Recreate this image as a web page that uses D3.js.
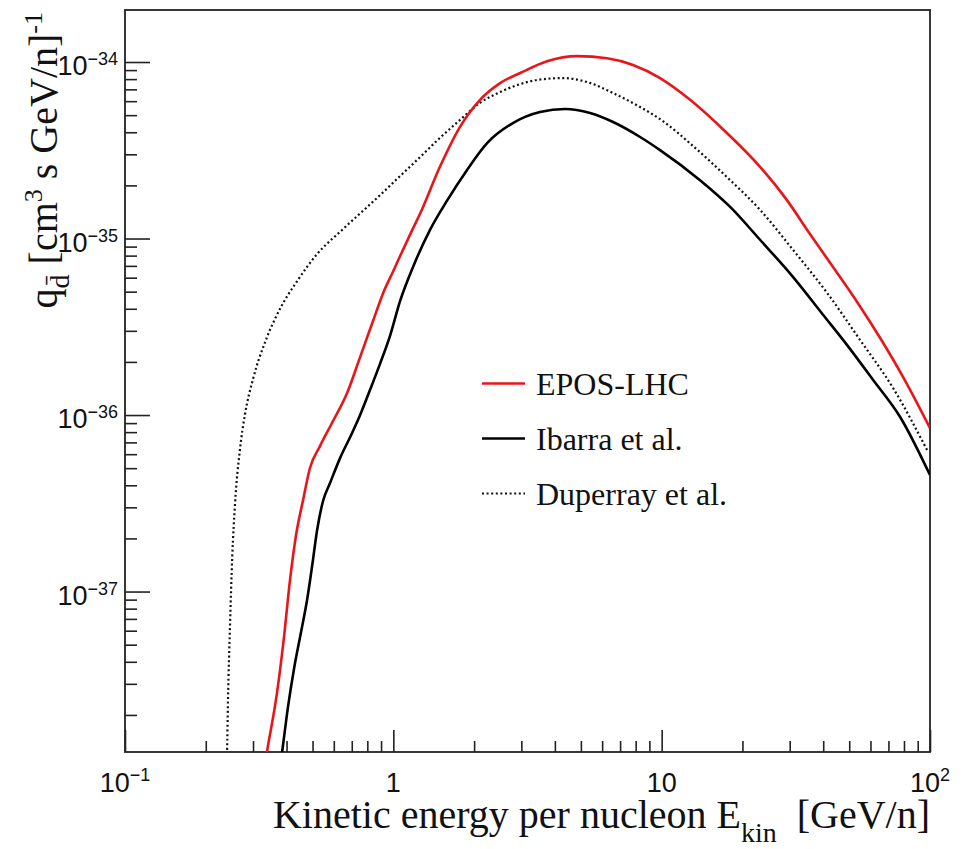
<!DOCTYPE html>
<html>
<head>
<meta charset="utf-8">
<script src="https://cdn.jsdelivr.net/npm/d3@7"></script>
<style>
body { margin: 0; background: #fff; }
</style>
</head>
<body>
<svg width="964" height="849"></svg>
<script>
// kinetic energy per nucleon [GeV/n] and source term q [cm^3 s GeV/n]^-1
var eposE = [0.327, 0.338, 0.369, 0.391, 0.412, 0.434, 0.461, 0.489, 0.533, 0.596, 0.672, 0.752, 0.840, 0.923, 1.00, 1.06, 1.18, 1.26, 1.49, 1.77, 2.10, 2.50, 2.97, 3.74, 4.84, 6.26, 7.82, 9.86, 12.8, 17.5, 23.3, 29.3, 35.7, 43.5, 53.5, 65.2, 79.4, 100];
var eposQ = [9.0e-39, 1.23e-38, 2.70e-38, 5.46e-38, 1.16e-37, 2.09e-37, 3.30e-37, 5.01e-37, 6.67e-37, 9.25e-37, 1.33e-36, 2.13e-36, 3.41e-36, 5.04e-36, 6.55e-36, 7.96e-36, 1.13e-35, 1.39e-35, 2.54e-35, 4.28e-35, 6.09e-35, 7.60e-35, 8.66e-35, 1.01e-34, 1.08e-34, 1.05e-34, 9.62e-35, 8.11e-35, 6.09e-35, 3.96e-35, 2.54e-35, 1.65e-35, 1.06e-35, 6.90e-36, 4.37e-36, 2.73e-36, 1.64e-36, 8.44e-37];

var ibarraE = [0.378, 0.385, 0.405, 0.427, 0.453, 0.477, 0.498, 0.520, 0.547, 0.581, 0.633, 0.702, 0.752, 0.819, 0.892, 0.972, 1.06, 1.18, 1.37, 1.59, 1.88, 2.24, 2.79, 3.52, 4.37, 5.41, 6.59, 8.31, 9.86, 13.9, 18.0, 23.3, 30.9, 40.0, 49.1, 61.4, 77.4, 100];
var ibarraQ = [1.0e-38, 1.23e-38, 2.22e-38, 3.69e-38, 5.90e-38, 8.95e-38, 1.39e-37, 2.23e-37, 3.26e-37, 4.12e-37, 5.70e-37, 7.91e-37, 1.00e-36, 1.39e-36, 1.95e-36, 2.81e-36, 4.43e-36, 6.81e-36, 1.12e-35, 1.65e-35, 2.44e-35, 3.48e-35, 4.51e-35, 5.21e-35, 5.42e-35, 5.14e-35, 4.57e-35, 3.76e-35, 3.17e-35, 2.14e-35, 1.51e-35, 9.81e-36, 6.05e-36, 3.69e-36, 2.49e-36, 1.58e-36, 9.75e-37, 4.57e-37];

var duperrayE = [0.238, 0.240, 0.242, 0.246, 0.251, 0.257, 0.268, 0.280, 0.300, 0.335, 0.378, 0.438, 0.520, 0.649, 0.892, 1.06, 1.26, 1.49, 1.77, 2.10, 2.50, 2.97, 3.52, 4.29, 5.27, 6.59, 8.31, 10.1, 13.1, 17.5, 23.3, 30.9, 41.4, 54.9, 72.9, 97.5];
var duperrayQ = [1.0e-38, 1.23e-38, 2.43e-38, 6.13e-38, 1.57e-37, 3.13e-37, 6.34e-37, 1.01e-36, 1.60e-36, 2.66e-36, 3.99e-36, 5.74e-36, 8.17e-36, 1.13e-35, 1.76e-35, 2.26e-35, 2.90e-35, 3.71e-35, 4.69e-35, 5.86e-35, 6.76e-35, 7.50e-35, 7.96e-35, 8.11e-35, 7.70e-35, 6.67e-35, 5.56e-35, 4.63e-35, 3.34e-35, 2.23e-35, 1.45e-35, 8.61e-36, 4.91e-36, 2.66e-36, 1.42e-36, 6.34e-37];

var seriesNames = ["EPOS-LHC", "Ibarra et al.", "Duperray et al."];

var xTickValues = [0.1, 1, 10, 100];
var xTickBase = ["10", "1", "10", "10"];
var xTickExp = ["\u22121", "", "", "2"];

var yTickValues = [1e-34, 1e-35, 1e-36, 1e-37];
var yTickExp = ["\u221234", "\u221235", "\u221236", "\u221237"];

var fLeft = 125, fRight = 930, fTop = 10, fBottom = 752;

var svg = d3.select("svg");

var x = d3.scaleLog().domain([0.1, 100]).range([fLeft, fRight]);
var y = d3.scaleLog().domain([1.233e-38, 1.971e-34]).range([fBottom, fTop]);

// minor ticks 2..9 per decade
function minors(scale) {
  var d = scale.domain(), out = [];
  for (var e = -40; e <= 3; e++) {
    for (var k = 2; k <= 9; k++) {
      var v = k * Math.pow(10, e);
      if (v >= Math.min(d[0], d[1]) && v <= Math.max(d[0], d[1])) out.push(v);
    }
  }
  return out;
}

svg.append("clipPath").attr("id", "frameclip")
  .append("rect").attr("x", fLeft).attr("y", fTop)
  .attr("width", fRight - fLeft).attr("height", fBottom - fTop);

var axisColor = "#222";

// x axis ticks
var gx = svg.append("g").attr("transform", "translate(0," + fBottom + ")");
gx.call(d3.axisBottom(x).tickValues(xTickValues).tickSize(-22).tickFormat(""));
gx.append("g").call(d3.axisBottom(x).tickValues(minors(x)).tickSize(-11).tickFormat(""));

// y axis ticks
var gy = svg.append("g").attr("transform", "translate(" + fLeft + ",0)");
gy.call(d3.axisLeft(y).tickValues(yTickValues).tickSize(-25).tickFormat(""));
gy.append("g").call(d3.axisLeft(y).tickValues(minors(y)).tickSize(-12).tickFormat(""));

svg.selectAll(".domain").remove();
svg.selectAll(".tick text").remove();
svg.selectAll(".tick line").attr("stroke", axisColor).attr("stroke-width", 1.6);

// frame
svg.append("rect")
  .attr("x", fLeft).attr("y", fTop)
  .attr("width", fRight - fLeft).attr("height", fBottom - fTop)
  .attr("fill", "none").attr("stroke", axisColor).attr("stroke-width", 1.8);

// x tick labels
xTickValues.forEach(function(v, i) {
  var t = svg.append("text")
    .attr("x", x(v)).attr("y", fBottom + 40)
    .attr("text-anchor", "middle")
    .attr("font-family", "Liberation Sans, Arial, sans-serif")
    .attr("font-size", 27).attr("fill", "#111");
  t.append("tspan").text(xTickBase[i]);
  if (xTickExp[i]) t.append("tspan").attr("dy", -11).attr("font-size", 18).text(xTickExp[i]);
});

// y tick labels
yTickValues.forEach(function(v, i) {
  var t = svg.append("text")
    .attr("x", 118).attr("y", y(v) + 13)
    .attr("text-anchor", "end")
    .attr("font-family", "Liberation Sans, Arial, sans-serif")
    .attr("font-size", 27).attr("fill", "#111");
  t.append("tspan").text("10");
  t.append("tspan").attr("dy", -10).attr("font-size", 18).text(yTickExp[i]);
});

// curves
var line = d3.line()
  .x(function(d) { return x(d[0]); })
  .y(function(d) { return y(d[1]); })
  .curve(d3.curveMonotoneX);

var plot = svg.append("g").attr("clip-path", "url(#frameclip)");

plot.append("path").datum(d3.zip(duperrayE, duperrayQ))
  .attr("d", line).attr("fill", "none")
  .attr("stroke", "#111").attr("stroke-width", 2.2).attr("stroke-dasharray", "2,2.6");
plot.append("path").datum(d3.zip(ibarraE, ibarraQ))
  .attr("d", line).attr("fill", "none")
  .attr("stroke", "#000").attr("stroke-width", 2.6);
plot.append("path").datum(d3.zip(eposE, eposQ))
  .attr("d", line).attr("fill", "none")
  .attr("stroke", "#e8161b").attr("stroke-width", 2.6);

// legend
var legY = [383.5, 438.5, 493.5];
var legStroke = ["#e8161b", "#000", "#111"];
var legDash = [null, null, "2,2.6"];
seriesNames.forEach(function(name, i) {
  svg.append("line")
    .attr("x1", 482).attr("x2", 525).attr("y1", legY[i]).attr("y2", legY[i])
    .attr("stroke", legStroke[i]).attr("stroke-width", i == 2 ? 2.2 : 2.6)
    .attr("stroke-dasharray", legDash[i]);
  svg.append("text")
    .attr("x", 536).attr("y", legY[i] + 11.5)
    .attr("font-family", "Liberation Serif, Times New Roman, serif")
    .attr("font-size", 32).attr("fill", "#111")
    .text(name);
});

// x title
var xt = svg.append("text")
  .attr("x", fRight).attr("y", 828)
  .attr("text-anchor", "end")
  .attr("font-family", "Liberation Serif, Times New Roman, serif")
  .attr("font-size", 40).attr("fill", "#111");
xt.append("tspan").text("Kinetic energy per nucleon E");
xt.append("tspan").attr("dy", 14).attr("font-size", 28).text("kin");
xt.append("tspan").attr("dy", -14).text("\u00a0 [GeV/n]");

// y title
var yt = svg.append("text")
  .attr("transform", "translate(57,12) rotate(-90)")
  .attr("text-anchor", "end")
  .attr("font-family", "Liberation Serif, Times New Roman, serif")
  .attr("font-size", 40).attr("fill", "#111");
yt.append("tspan").text("q");
yt.append("tspan").attr("dy", 12).attr("font-size", 28).text("d\u0304");
yt.append("tspan").attr("dy", -12).text(" [cm");
yt.append("tspan").attr("dy", -15).attr("font-size", 26).text("3");
yt.append("tspan").attr("dy", 15).text(" s GeV/n]");
yt.append("tspan").attr("dy", -15).attr("font-size", 26).text("-1");
</script>
</body>
</html>
